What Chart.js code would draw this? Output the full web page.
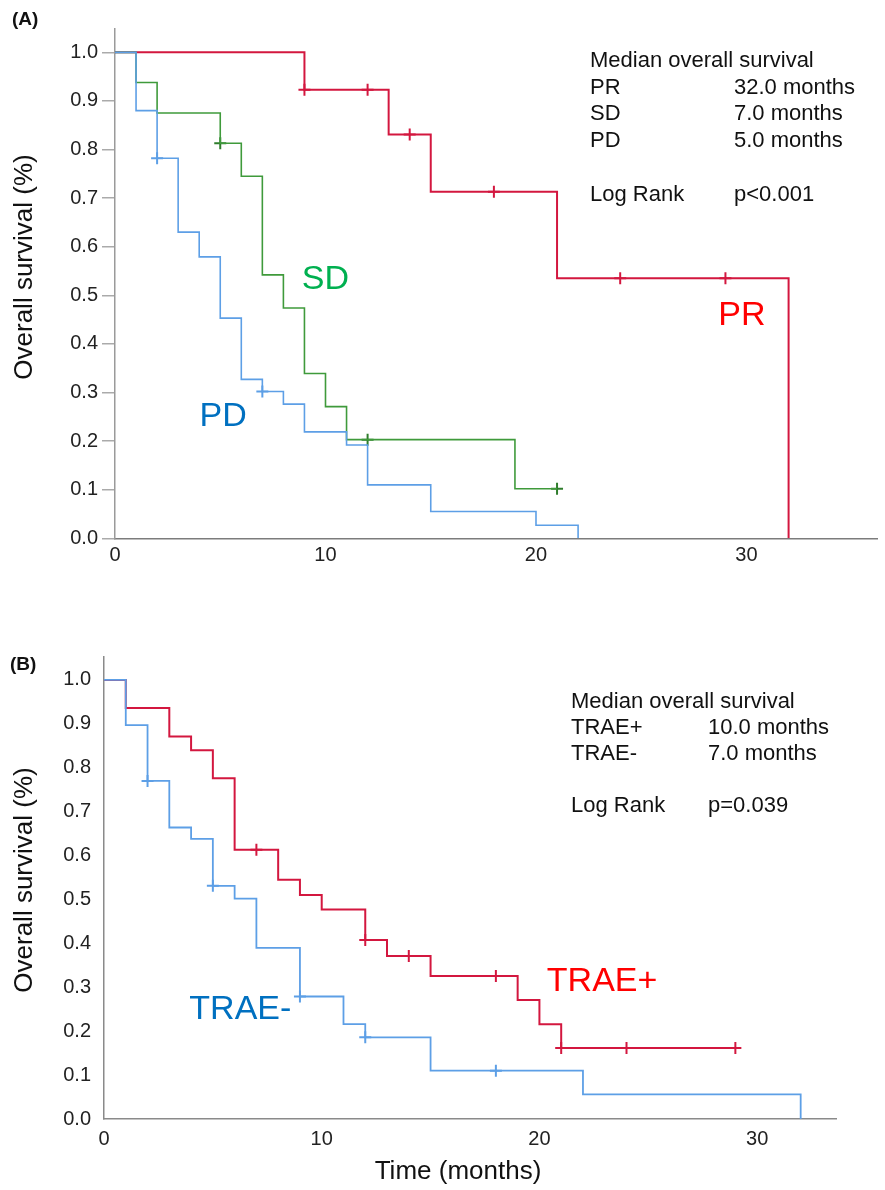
<!DOCTYPE html>
<html>
<head>
<meta charset="utf-8">
<script src="https://cdn.jsdelivr.net/npm/chart.js@4.4.0/dist/chart.umd.min.js"></script>
<style>
  body { margin: 0; background: #fff; }
  #wrap { position: relative; width: 885px; height: 1190px; }
  canvas { position: absolute; left: 0; }
</style>
</head>
<body>
<div id="wrap">
  <canvas id="chartA" width="885" height="580" style="top:0"></canvas>
  <canvas id="chartB" width="885" height="590" style="top:600px"></canvas>
</div>
<script>
// ---- panel A: best response (PR / SD / PD) ----
const prTime = [0, 9, 13, 15, 21, 32];
const prSurv = [1, 0.923, 0.831, 0.713, 0.535, 0];
const prCensor = [9, 12, 14, 18, 24, 29];

const sdTime = [0, 1, 2, 5, 6, 7, 8, 9, 10, 11, 19, 21];
const sdSurv = [1, 0.938, 0.875, 0.813, 0.745, 0.542, 0.474, 0.339, 0.271, 0.203, 0.102, 0.102];
const sdCensor = [5, 12, 21];

const pdTime = [0, 1, 2, 3, 4, 5, 6, 7, 8, 9, 11, 12, 15, 20, 22];
const pdSurv = [1, 0.88, 0.782, 0.63, 0.579, 0.453, 0.327, 0.302, 0.276, 0.219, 0.192, 0.11, 0.055, 0.027, 0];
const pdCensor = [2, 7];

const groupsA = ["PR", "SD", "PD"];
const mediansA = ["32.0 months", "7.0 months", "5.0 months"];
const logRankA = "p<0.001";

// ---- panel B: treatment related adverse events ----
const posTime = [0, 1, 3, 4, 5, 6, 8, 9, 10, 12, 13, 15, 19, 20, 21, 29];
const posSurv = [1, 0.936, 0.871, 0.84, 0.776, 0.613, 0.545, 0.51, 0.477, 0.408, 0.371, 0.326, 0.271, 0.216, 0.162, 0.162];
const posCensor = [7, 12, 14, 18, 21, 24, 29];

const negTime = [0, 1, 2, 3, 4, 5, 6, 7, 9, 11, 12, 15, 22, 32];
const negSurv = [1, 0.897, 0.77, 0.664, 0.638, 0.531, 0.502, 0.39, 0.279, 0.216, 0.186, 0.11, 0.056, 0];
const negCensor = [2, 5, 9, 12, 18];

const groupsB = ["TRAE+", "TRAE-"];
const mediansB = ["10.0 months", "7.0 months"];
const logRankB = "p=0.039";

const yTicks = [0, 0.1, 0.2, 0.3, 0.4, 0.5, 0.6, 0.7, 0.8, 0.9, 1.0];
const xTicks = [0, 10, 20, 30];

const FONT = "'Liberation Sans', Arial, sans-serif";
const RED = "#d3173f";
const GREEN = "#3f9a3b";
const BLUE = "#5d9fe6";

// value of step function at time t
function survAt(times, surv, t) {
  let v = surv[0];
  for (let i = 0; i < times.length; i++) {
    if (times[i] <= t) v = surv[i];
  }
  return v;
}

function curve(times, surv, color, width) {
  return {
    data: times.map((t, i) => ({ x: t, y: surv[i] })),
    showLine: true,
    stepped: "before",
    borderColor: color,
    borderWidth: width,
    pointRadius: 0,
    fill: false,
  };
}

function censors(cTimes, times, surv, color) {
  return {
    data: cTimes.map((t) => ({ x: t, y: survAt(times, surv, t) })),
    showLine: false,
    pointStyle: "cross",
    pointRadius: 6,
    borderColor: color,
    borderWidth: 2,
  };
}

// texts drawn on top of the chart
const notesPlugin = {
  id: "notes",
  afterDraw(chart, args, opts) {
    const ctx = chart.ctx;
    const xs = chart.scales.x;
    const ys = chart.scales.y;
    ctx.save();
    opts.items.forEach((it) => {
      ctx.font = it.font;
      ctx.fillStyle = it.color || "#111";
      ctx.textAlign = it.align || "left";
      ctx.textBaseline = it.baseline || "alphabetic";
      let px = it.px, py = it.py;
      if (it.dx !== undefined) px = xs.getPixelForValue(it.dx);
      if (it.dy !== undefined) py = ys.getPixelForValue(it.dy);
      if (it.rotate) {
        ctx.save();
        ctx.translate(px, py);
        ctx.rotate(-Math.PI / 2);
        ctx.fillText(it.text, 0, 0);
        ctx.restore();
      } else {
        ctx.fillText(it.text, px, py);
      }
    });
    ctx.restore();
  },
};

function tableItems(groups, medians, logRank, left, col2, top, step) {
  const items = [{ text: "Median overall survival", px: left, py: top, font: "22px " + FONT }];
  groups.forEach((g, i) => {
    items.push({ text: g, px: left, py: top + step * (i + 1), font: "22px " + FONT });
    items.push({ text: medians[i], px: col2, py: top + step * (i + 1), font: "22px " + FONT });
  });
  const lr = top + step * (groups.length + 2);
  items.push({ text: "Log Rank", px: left, py: lr, font: "22px " + FONT });
  items.push({ text: logRank, px: col2, py: lr, font: "22px " + FONT });
  return items;
}

function makeOptions(cfg) {
  return {
    responsive: false,
    animation: false,
    events: [],
    layout: { padding: { top: cfg.top, right: cfg.right, bottom: 0, left: 0 } },
    plugins: {
      legend: { display: false },
      tooltip: { enabled: false },
      notes: { items: cfg.notes },
    },
    scales: {
      x: {
        type: "linear",
        min: 0,
        max: cfg.xMax,
        afterFit: (s) => { s.height = cfg.xHeight; },
        afterBuildTicks: (s) => { s.ticks = xTicks.map((v) => ({ value: v })); },
        ticks: {
          callback: (v) => String(v),
          font: { family: FONT, size: 20 },
          color: "#222",
          padding: cfg.xPad,
          maxRotation: 0,
        },
        grid: { drawOnChartArea: false, drawTicks: false },
        border: { color: cfg.xAxisColor, width: 1.5 },
      },
      y: {
        type: "linear",
        min: 0,
        max: cfg.yMax,
        afterFit: (s) => { s.width = cfg.yWidth; },
        afterBuildTicks: (s) => { s.ticks = yTicks.map((v) => ({ value: v })); },
        ticks: {
          callback: (v) => v.toFixed(1),
          font: { family: FONT, size: 20 },
          color: "#222",
          padding: cfg.yPad,
        },
        grid: {
          drawOnChartArea: false,
          drawTicks: cfg.yTickMarks,
          tickLength: 13,
          color: "#aaa",
          lineWidth: 1.5,
        },
        border: { color: cfg.yAxisColor, width: 1.5 },
      },
    },
  };
}

// ---- chart A ----
const notesA = tableItems(groupsA, mediansA, logRankA, 590, 734, 67, 26.7).concat([
  { text: "PR", dx: 28.66, dy: 0.439, font: "34px " + FONT, color: "#ff0000" },
  { text: "SD", dx: 8.87, dy: 0.514, font: "34px " + FONT, color: "#00b050" },
  { text: "PD", dx: 4.02, dy: 0.232, font: "34px " + FONT, color: "#0070c0" },
  { text: "Overall survival (%)", px: 25, py: 267, rotate: true, align: "center", baseline: "middle", font: "26px " + FONT, color: "#111" },
  { text: "(A)", px: 12, py: 20, baseline: "middle", font: "bold 19px " + FONT, color: "#111" },
]);

new Chart(document.getElementById("chartA"), {
  type: "scatter",
  data: {
    datasets: [
      curve(pdTime, pdSurv, BLUE, 1.6),
      curve(sdTime, sdSurv, GREEN, 1.6),
      curve(prTime, prSurv, RED, 2),
      censors(pdCensor, pdTime, pdSurv, BLUE),
      censors(sdCensor, sdTime, sdSurv, "#2f7d2c"),
      censors(prCensor, prTime, prSurv, RED),
    ],
  },
  options: makeOptions({
    top: 29, right: 0, xMax: 36.2, yMax: 1.048,
    xHeight: 41.7, yWidth: 115, xPad: 5, yPad: 4, yTickMarks: true,
    xAxisColor: "#7c7c7c", yAxisColor: "#9a9a9a",
    notes: notesA,
  }),
  plugins: [notesPlugin],
});

// ---- chart B ----
const notesB = tableItems(groupsB, mediansB, logRankB, 571, 708, 108.3, 26).concat([
  { text: "TRAE+", dx: 20.34, dy: 0.292, font: "34px " + FONT, color: "#ff0000" },
  { text: "TRAE-", dx: 3.92, dy: 0.227, font: "34px " + FONT, color: "#0070c0" },
  { text: "Overall survival (%)", px: 25, py: 280, rotate: true, align: "center", baseline: "middle", font: "26px " + FONT, color: "#111" },
  { text: "Time (months)", px: 458, py: 572, align: "center", baseline: "middle", font: "26px " + FONT, color: "#111" },
  { text: "(B)", px: 10, py: 65, baseline: "middle", font: "bold 19px " + FONT, color: "#111" },
]);

new Chart(document.getElementById("chartB"), {
  type: "scatter",
  data: {
    datasets: [
      curve(negTime, negSurv, BLUE, 1.8),
      curve(posTime, posSurv, RED, 2),
      censors(negCensor, negTime, negSurv, BLUE),
      censors(posCensor, posTime, posSurv, RED),
    ],
  },
  options: makeOptions({
    top: 56.7, right: 48.4, xMax: 33.65, yMax: 1.053,
    xHeight: 71, yWidth: 104, xPad: 8, yPad: 13, yTickMarks: false,
    xAxisColor: "#8a8a8a", yAxisColor: "#8a8a8a",
    notes: notesB,
  }),
  plugins: [notesPlugin],
});
</script>
</body>
</html>
